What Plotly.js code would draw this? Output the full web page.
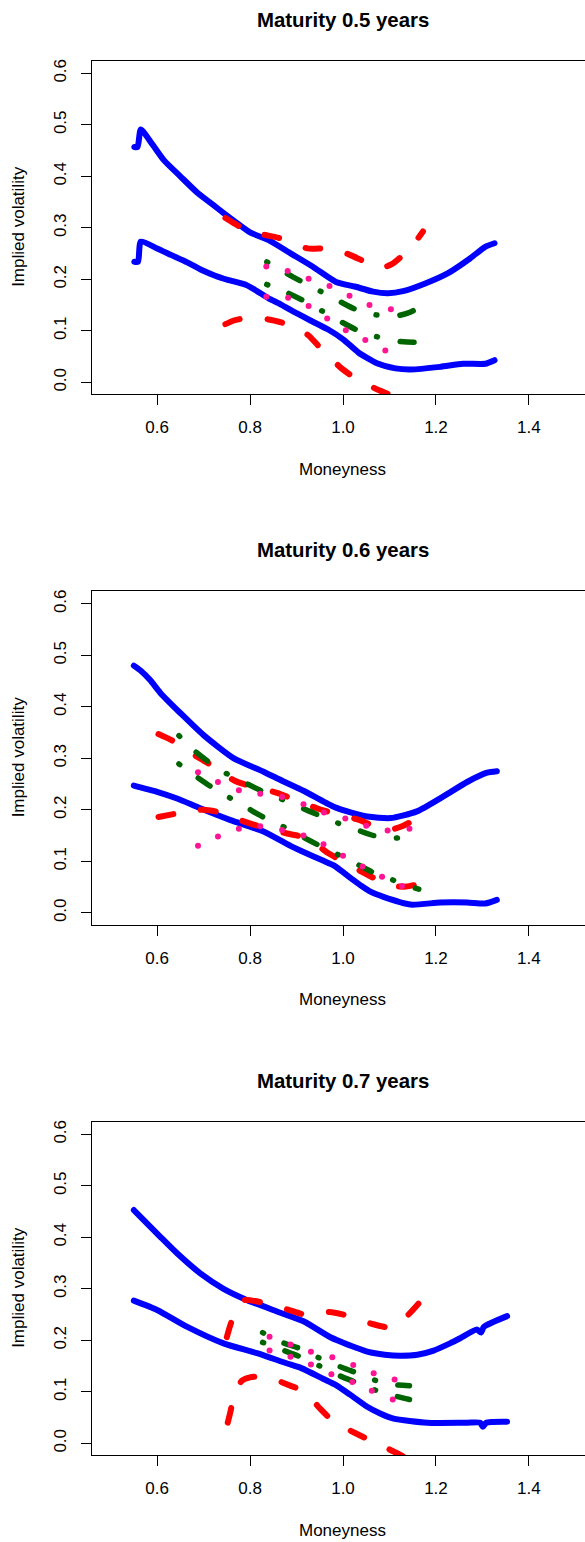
<!DOCTYPE html>
<html>
<head>
<meta charset="utf-8">
<script src="https://cdn.plot.ly/plotly-3.0.1.min.js"></script>
<style>
html, body { margin:0; padding:0; overflow:hidden; background:#fff; }
#chart { width:600px; height:1542px; }
.js-line { stroke-linecap: round !important; stroke-linejoin: round !important; }
</style>
</head>
<body>
<div id="chart"></div>
<script>
// ---------- data ----------
const maturities = ["0.5", "0.6", "0.7"];
const xTickVals = [0.6, 0.8, 1.0, 1.2, 1.4];
const xTickText = ["0.6", "0.8", "1.0", "1.2", "1.4"];
const yTickVals = [0, 0.1, 0.2, 0.3, 0.4, 0.5, 0.6];
const yTickText = ["0.0", "0.1", "0.2", "0.3", "0.4", "0.5", "0.6"];

// Panel 1 (maturity 0.5)
const blueUp1X = [0.551,0.558,0.565,0.59,0.615,0.65,0.688,0.72,0.744,0.772,0.80,0.84,0.888,0.936,0.985,1.025,1.065,1.097,1.129,1.177,1.226,1.274,1.306,1.326];
const blueUp1Y = [0.457,0.457,0.491,0.462,0.431,0.400,0.367,0.345,0.328,0.309,0.291,0.276,0.250,0.224,0.195,0.186,0.176,0.173,0.177,0.192,0.212,0.241,0.263,0.270];
const blueLo1X = [0.551,0.559,0.565,0.60,0.631,0.665,0.696,0.725,0.752,0.792,0.815,0.840,0.865,0.888,0.928,0.969,1.001,1.033,1.073,1.113,1.145,1.209,1.258,1.306,1.326];
const blueLo1Y = [0.234,0.234,0.273,0.260,0.247,0.233,0.218,0.207,0.199,0.189,0.177,0.163,0.152,0.140,0.121,0.102,0.083,0.058,0.037,0.027,0.025,0.030,0.036,0.036,0.043];
const redUp1X = [0.747,0.765,0.779,0.80,0.833,0.872,0.923,0.963,0.99,1.016,1.053,1.08,1.106,1.136,1.155,1.172];
const redUp1Y = [0.319,0.309,0.302,0.292,0.286,0.278,0.260,0.260,0.256,0.247,0.232,0.222,0.230,0.253,0.272,0.293];
const redLo1X = [0.747,0.765,0.786,0.81,0.84,0.88,0.905,0.926,0.955,0.975,0.993,1.026,1.05,1.074,1.109,1.14];
const redLo1Y = [0.113,0.120,0.124,0.124,0.122,0.113,0.103,0.091,0.063,0.046,0.030,0.008,-0.003,-0.014,-0.027,-0.038];
const greenUp1X = [0.836,0.876,0.910,0.951,0.991,1.026,1.071,1.115,1.151,1.185];
const greenUp1Y = [0.234,0.213,0.196,0.177,0.158,0.142,0.131,0.129,0.139,0.166];
const greenLo1X = [0.836,0.880,0.914,0.954,0.993,1.029,1.071,1.115,1.152,1.195];
const greenLo1Y = [0.190,0.174,0.159,0.139,0.119,0.102,0.089,0.080,0.078,0.080];
const pinkUp1X = [0.835,0.881,0.926,0.971,1.014,1.057,1.103];
const pinkUp1Y = [0.225,0.216,0.201,0.187,0.168,0.150,0.142];
const pinkLo1X = [0.835,0.882,0.926,0.966,1.006,1.048,1.091];
const pinkLo1Y = [0.166,0.164,0.148,0.124,0.101,0.082,0.062];

// Panel 2 (maturity 0.6)
const blueUp2X = [0.550,0.565,0.585,0.607,0.650,0.700,0.765,0.829,0.870,0.915,0.980,1.020,1.052,1.102,1.159,1.216,1.267,1.310,1.331];
const blueUp2Y = [0.480,0.470,0.452,0.427,0.388,0.345,0.300,0.274,0.256,0.237,0.206,0.194,0.187,0.184,0.197,0.226,0.254,0.272,0.275];
const blueLo2X = [0.550,0.600,0.643,0.693,0.758,0.829,0.887,0.908,0.958,0.980,1.016,1.040,1.059,1.087,1.145,1.209,1.267,1.306,1.331];
const blueLo2Y = [0.247,0.235,0.222,0.203,0.180,0.158,0.130,0.121,0.101,0.092,0.068,0.052,0.041,0.031,0.016,0.020,0.020,0.018,0.025];
const redUp2X = [0.603,0.640,0.686,0.720,0.766,0.802,0.858,0.892,0.944,0.980,1.036,1.072,1.100,1.127,1.159];
const redUp2Y = [0.347,0.331,0.303,0.285,0.257,0.246,0.233,0.221,0.203,0.193,0.180,0.166,0.161,0.168,0.183];
const redLo2X = [0.603,0.643,0.670,0.699,0.736,0.788,0.824,0.880,0.915,0.940,0.966,0.998,1.048,1.084,1.110,1.136,1.173];
const redLo2Y = [0.186,0.193,0.198,0.200,0.195,0.177,0.167,0.154,0.147,0.135,0.117,0.101,0.076,0.060,0.052,0.051,0.058];
const greenUp2X = [0.647,0.680,0.711,0.748,0.790,0.824,0.867,0.910,0.944,0.987,1.030,1.066,1.111,1.160];
const greenUp2Y = [0.344,0.315,0.293,0.271,0.252,0.237,0.221,0.204,0.191,0.175,0.161,0.150,0.145,0.151];
const greenLo2X = [0.647,0.685,0.716,0.755,0.797,0.828,0.870,0.912,0.944,0.987,1.029,1.061,1.104,1.130,1.163];
const greenLo2Y = [0.289,0.264,0.245,0.224,0.202,0.186,0.168,0.148,0.133,0.114,0.095,0.080,0.065,0.055,0.046];
const pinkUp2X = [0.688,0.731,0.776,0.822,0.869,0.915,0.959,1.005,1.050,1.096,1.143];
const pinkUp2Y = [0.273,0.254,0.238,0.231,0.225,0.211,0.195,0.183,0.169,0.160,0.163];
const pinkLo2X = [0.688,0.731,0.776,0.822,0.869,0.915,0.958,1.000,1.042,1.084,1.127];
const pinkLo2Y = [0.130,0.148,0.163,0.168,0.161,0.150,0.133,0.111,0.090,0.070,0.052];

// Panel 3 (maturity 0.7)
const blueUp3X = [0.550,0.607,0.643,0.693,0.743,0.794,0.858,0.915,0.973,1.030,1.052,1.090,1.123,1.160,1.195,1.230,1.252,1.288,1.297,1.303,1.353];
const blueUp3Y = [0.453,0.401,0.369,0.330,0.300,0.278,0.256,0.237,0.206,0.185,0.178,0.172,0.170,0.172,0.180,0.194,0.204,0.221,0.215,0.226,0.247];
const blueLo3X = [0.550,0.600,0.665,0.743,0.815,0.880,0.908,0.958,0.985,1.016,1.052,1.080,1.109,1.181,1.267,1.295,1.301,1.308,1.353];
const blueLo3Y = [0.277,0.259,0.226,0.194,0.175,0.155,0.147,0.125,0.113,0.094,0.071,0.058,0.048,0.040,0.040,0.040,0.032,0.040,0.042];
const redUp3X = [0.750,0.756,0.762,0.770,0.788,0.828,0.880,0.917,0.944,0.971,1.009,1.035,1.062,1.100,1.122,1.143,1.170];
const redUp3Y = [0.206,0.225,0.242,0.264,0.278,0.273,0.260,0.250,0.250,0.255,0.248,0.240,0.232,0.225,0.234,0.252,0.279];
const redLo3X = [0.752,0.757,0.761,0.768,0.783,0.800,0.819,0.850,0.872,0.908,0.930,0.950,0.976,1.000,1.026,1.060,1.100,1.140];
const redLo3Y = [0.040,0.058,0.075,0.100,0.122,0.128,0.130,0.126,0.117,0.104,0.088,0.068,0.045,0.032,0.020,0.005,-0.012,-0.030];
const greenUp3X = [0.827,0.869,0.905,0.946,0.987,1.023,1.067,1.111,1.143];
const greenUp3Y = [0.215,0.196,0.185,0.167,0.151,0.139,0.123,0.114,0.112];
const greenLo3X = [0.827,0.871,0.905,0.948,0.988,1.023,1.067,1.111,1.143];
const greenLo3Y = [0.196,0.181,0.169,0.151,0.133,0.120,0.104,0.092,0.085];
const pinkUp3X = [0.842,0.887,0.931,0.977,1.022,1.066,1.111];
const pinkUp3Y = [0.207,0.192,0.178,0.167,0.152,0.136,0.124];
const pinkLo3X = [0.842,0.887,0.931,0.975,1.020,1.062,1.107];
const pinkLo3Y = [0.180,0.168,0.153,0.134,0.119,0.102,0.085];

// ---------- build ----------
const FONT = "Liberation Sans, Arial, Helvetica, sans-serif";
const panels = [
  {blueUp:[blueUp1X,blueUp1Y], blueLo:[blueLo1X,blueLo1Y], redUp:[redUp1X,redUp1Y], redLo:[redLo1X,redLo1Y],
   greenUp:[greenUp1X,greenUp1Y], greenLo:[greenLo1X,greenLo1Y], pinkUp:[pinkUp1X,pinkUp1Y], pinkLo:[pinkLo1X,pinkLo1Y]},
  {blueUp:[blueUp2X,blueUp2Y], blueLo:[blueLo2X,blueLo2Y], redUp:[redUp2X,redUp2Y], redLo:[redLo2X,redLo2Y],
   greenUp:[greenUp2X,greenUp2Y], greenLo:[greenLo2X,greenLo2Y], pinkUp:[pinkUp2X,pinkUp2Y], pinkLo:[pinkLo2X,pinkLo2Y]},
  {blueUp:[blueUp3X,blueUp3Y], blueLo:[blueLo3X,blueLo3Y], redUp:[redUp3X,redUp3Y], redLo:[redLo3X,redLo3Y],
   greenUp:[greenUp3X,greenUp3Y], greenLo:[greenLo3X,greenLo3Y], pinkUp:[pinkUp3X,pinkUp3Y], pinkLo:[pinkLo3X,pinkLo3Y]}
];

const W = 600, H = 1542, ML = 92, MR = 6;
const PW = W - ML - MR;
const PANEL_STEP = 530.5;
const BOX_TOP = 60.7, BOX_BOT = 394;

const traces = [];
const layout = {
  width: W, height: H,
  margin: {l: ML, r: MR, t: 0, b: 0, pad: 0},
  paper_bgcolor: '#fff', plot_bgcolor: '#fff',
  showlegend: false,
  font: {family: FONT, size: 17, color: '#000'},
  annotations: []
};

const pxX = px => (px - ML) / PW;
const pxY = py => (H - py) / H;

panels.forEach((p, i) => {
  const sfx = i === 0 ? '' : String(i + 1);
  const xa = 'x' + sfx, ya = 'y' + sfx;
  const off = i * PANEL_STEP;
  const line = (d, style, sm) => ({
    type: 'scatter', mode: 'lines', x: d[0], y: d[1], xaxis: xa, yaxis: ya,
    line: Object.assign({shape: 'spline', smoothing: sm === undefined ? 0.7 : sm}, style), hoverinfo: 'skip'
  });
  traces.push(line(p.blueUp, {color: '#0000FF', width: 6}, 0.6));
  traces.push(line(p.blueLo, {color: '#0000FF', width: 6}, 0.6));
  traces.push(line(p.redUp, {color: '#FF0000', width: 6, dash: '15px,28px'}));
  traces.push(line(p.redLo, {color: '#FF0000', width: 6, dash: '15px,28px'}));
  traces.push(line(p.greenUp, {color: '#006400', width: 5.5, dash: '1px,23px,14px,23px'}));
  traces.push(line(p.greenLo, {color: '#006400', width: 5.5, dash: '1px,23px,14px,23px'}));
  [p.pinkUp, p.pinkLo].forEach(d => traces.push({
    type: 'scatter', mode: 'markers', x: d[0], y: d[1], xaxis: xa, yaxis: ya,
    marker: {color: '#FF1493', size: 6, line: {width: 0}}, hoverinfo: 'skip'
  }));

  const top = BOX_TOP + off, bot = BOX_BOT + off;
  layout['xaxis' + sfx] = {
    domain: [0, 1], anchor: ya, range: [0.46, 1.54],
    tickmode: 'array', tickvals: xTickVals, ticktext: xTickText,
    ticks: 'outside', ticklen: 10, tickwidth: 1, tickcolor: '#000',
    ticklabelstandoff: 8,
    showline: true, mirror: true, linecolor: '#000', linewidth: 1,
    showgrid: false, zeroline: false,
    tickfont: {family: FONT, size: 17, color: '#000'}
  };
  layout['yaxis' + sfx] = {
    domain: [pxY(bot), pxY(top)], anchor: xa, range: [-0.0227, 0.6245],
    tickmode: 'array', tickvals: yTickVals, ticktext: yTickText, tickangle: -90,
    ticks: 'outside', ticklen: 10, tickwidth: 1, tickcolor: '#000',
    ticklabelstandoff: 8,
    showline: true, mirror: true, linecolor: '#000', linewidth: 1,
    showgrid: false, zeroline: false,
    tickfont: {family: FONT, size: 17, color: '#000'}
  };
  const cx = pxX(342.7);
  layout.annotations.push({
    text: '<b>Maturity ' + maturities[i] + ' years</b>', xref: 'paper', yref: 'paper',
    x: cx, y: pxY(20 + off), xanchor: 'center', yanchor: 'middle', showarrow: false,
    font: {family: FONT, size: 20.4, color: '#000'}
  });
  layout.annotations.push({
    text: 'Moneyness', xref: 'paper', yref: 'paper',
    x: cx, y: pxY(469 + off), xanchor: 'center', yanchor: 'middle', showarrow: false,
    font: {family: FONT, size: 17, color: '#000'}
  });
  layout.annotations.push({
    text: 'Implied volatility', xref: 'paper', yref: 'paper', textangle: -90,
    x: pxX(18.5), y: pxY((top + bot) / 2), xanchor: 'center', yanchor: 'middle', showarrow: false,
    font: {family: FONT, size: 17, color: '#000'}
  });
});

Plotly.newPlot('chart', traces, layout, {staticPlot: true, displayModeBar: false});
</script>
</body>
</html>
